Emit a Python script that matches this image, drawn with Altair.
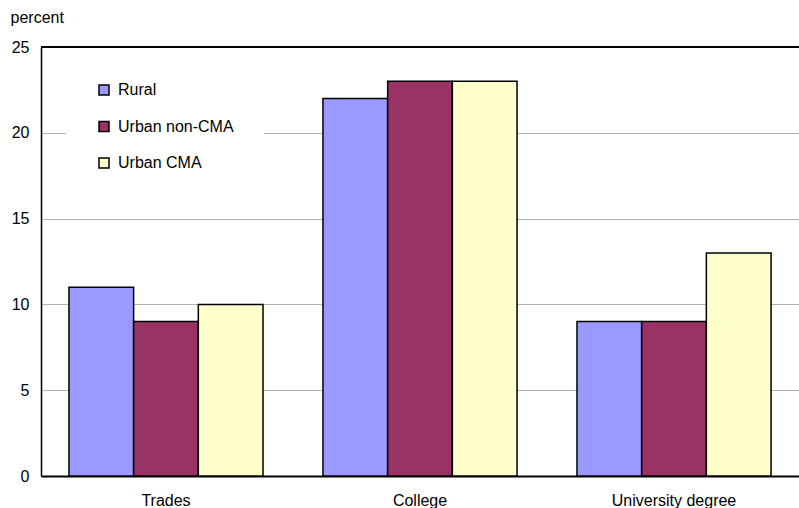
import altair as alt
import pandas as pd

# Share of population by highest level of post-secondary education
categories = ["Trades", "College", "University degree"]
groups = ["Rural", "Urban non-CMA", "Urban CMA"]
rural = [11, 22, 9]
urban_non_cma = [9, 23, 9]
urban_cma = [10, 23, 13]
colors = ["#9999FF", "#993366", "#FFFFCC"]

rows = []
for i, cat in enumerate(categories):
    for grp, vals in zip(groups, [rural, urban_non_cma, urban_cma]):
        rows.append({"education": cat, "area": grp, "value": vals[i]})
df = pd.DataFrame(rows)

FONT = "Liberation Sans"

y_scale = alt.Scale(domain=[0, 25], nice=False)

bars = alt.Chart(df).mark_bar(stroke="black", strokeWidth=1.5).encode(
    x=alt.X(
        "education:N",
        sort=categories,
        scale=alt.Scale(paddingInner=0.236, paddingOuter=0.11),
        axis=alt.Axis(
            title=None, labelAngle=0, ticks=False, domainColor="black",
            domainWidth=2, labelPadding=16, labelFontSize=16,
            labelColor="black", labelFont=FONT,
        ),
    ),
    xOffset=alt.XOffset(
        "area:N", sort=groups, scale=alt.Scale(paddingInner=0, paddingOuter=0)
    ),
    y=alt.Y(
        "value:Q",
        scale=y_scale,
        axis=alt.Axis(
            title="percent", titleAngle=0, titleAlign="left",
            titleBaseline="alphabetic", titleX=-31, titleY=-25,
            titleFontWeight="normal", titleFontSize=16, titleFont=FONT,
            titleColor="black",
            values=[0, 5, 10, 15, 20, 25], ticks=False, labelPadding=12,
            labelFontSize=16, labelFont=FONT, labelColor="black",
            domainColor="black", domainWidth=1.5,
            gridColor="#b3b3b3", gridWidth=1.2,
        ),
    ),
    color=alt.Color(
        "area:N",
        sort=groups,
        scale=alt.Scale(domain=groups, range=colors),
        legend=alt.Legend(
            title=None, orient="none", legendX=25, legendY=5,
            fillColor="white", padding=30, symbolType="square",
            symbolSize=100, symbolStrokeColor="black", symbolStrokeWidth=1.5,
            labelFontSize=16, labelFont=FONT, labelColor="black",
            rowPadding=20.5, labelOffset=6,
        ),
    ),
)

top_line = alt.Chart(df).mark_rule(color="black", strokeWidth=1.5).encode(
    y=alt.datum(25, scale=y_scale)
)

chart = alt.layer(bars, top_line).properties(
    width=758,
    height=429,
    autosize=alt.AutoSizeParams(type="none"),
    padding={"left": 41, "top": 47, "right": 0, "bottom": 32},
).configure_view(stroke=None).configure(background="white")

chart.save("out.html", embed_options={"renderer": "svg", "actions": False})
